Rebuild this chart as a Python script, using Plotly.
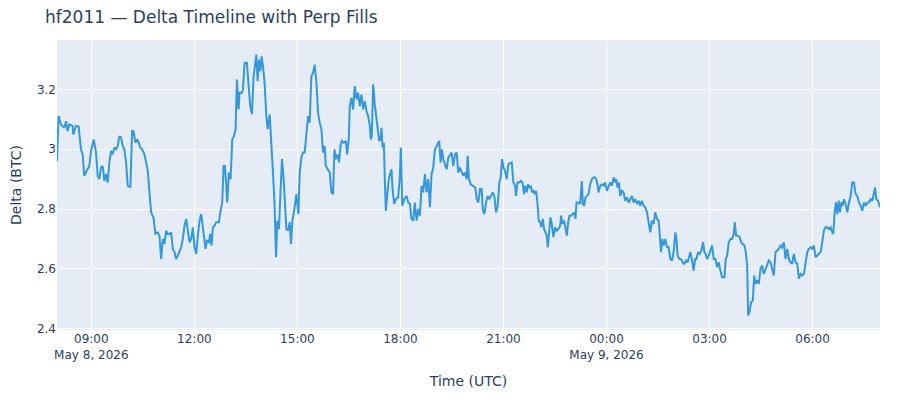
import pandas as pd
import plotly.graph_objects as go

# minutes after 2026-05-08 08:00 UTC and the delta (BTC)
start = pd.Timestamp('2026-05-08 08:00')

min_a = [0, 2.8, 6.9, 12.7, 15.7, 18.6, 21.5, 27.3, 28.5, 33.2,
         37.8, 40.2, 41.9, 44.8, 47.7, 51.8, 56.5, 59.4, 64.1, 68.2,
         71.1, 74.0, 76.9, 79.8, 82.7, 85.7, 88.6, 91.5, 94.4, 97.3,
         100.2, 103.2, 106.1, 109.0, 111.9, 114.8, 117.7, 120.7, 123.6, 128.2,
         131.2, 133.5, 137.0, 139.9, 142.8, 145.2, 148.7, 152.7, 155.7, 158.6,
         161.5, 164.4, 168.5, 172.0, 176.1, 179.0, 181.9, 184.8, 187.7, 190.7,
         193.6, 196.5, 199.4, 202.3, 205.2, 208.2, 211.1, 214.0, 216.9, 219.8,
         222.7, 225.7, 228.6, 231.5, 234.4, 237.3, 240.2, 243.2, 246.1, 249.0,
         251.9, 254.8]
val_a = [2.961, 3.111, 3.083, 3.072, 3.094, 3.061, 3.083, 3.078, 3.050, 3.078,
         3.076, 3.033, 3.000, 2.983, 2.911, 2.928, 2.944, 2.994, 3.033, 2.989,
         2.911, 2.900, 2.939, 2.944, 2.894, 2.917, 2.889, 2.956, 2.994, 2.983,
         3.006, 3.000, 3.011, 3.044, 3.039, 3.011, 3.000, 2.956, 2.878, 2.872,
         3.061, 3.061, 3.022, 3.033, 3.022, 3.006, 3.000, 2.983, 2.956, 2.928,
         2.856, 2.789, 2.772, 2.717, 2.722, 2.711, 2.633, 2.700, 2.683, 2.728,
         2.717, 2.717, 2.722, 2.667, 2.656, 2.633, 2.644, 2.656, 2.672, 2.700,
         2.744, 2.767, 2.722, 2.689, 2.700, 2.739, 2.672, 2.650, 2.711, 2.761,
         2.783, 2.744]

min_b = [257.8, 259.5, 261.8, 265.3, 267.7, 270.0, 272.3, 275.2, 278.2, 282.8,
         285.2, 288.7, 291.0, 293.3, 295.7, 297.4, 300.3, 303.2, 306.2, 309.1,
         312.0, 314.3, 317.2, 319.0, 323.1, 324.8, 327.7, 331.8, 334.8, 337.7,
         340.6, 343.5, 345.8, 348.2, 350.5, 352.8, 355.2, 357.5, 359.8, 362.7,
         365.7, 368.0, 371.5, 374.4, 377.3, 380.2, 382.6, 384.9, 387.8, 390.7,
         393.1, 396.0, 398.3, 400.7, 403.6, 406.5, 408.8, 411.2, 414.7, 418.2,
         421.7, 424.0, 426.9, 429.8, 432.7, 435.7, 438.6, 441.5, 444.4, 447.3,
         450.2, 453.2, 456.1, 459.0, 461.9, 464.8, 467.7, 469.5, 473.6, 476.5,
         479.4, 482.3, 484.7, 487.0, 490.0, 492.8, 495.2, 497.5, 501.0, 504.5,
         506.8, 509.7, 511.5, 514.4, 517.3, 520.2, 523.2, 526.1]
val_b = [2.700, 2.667, 2.694, 2.689, 2.717, 2.678, 2.739, 2.744, 2.756, 2.756,
         2.789, 2.822, 2.944, 2.944, 2.878, 2.822, 2.922, 2.900, 3.033, 3.044,
         3.067, 3.233, 3.133, 3.189, 3.189, 3.200, 3.289, 3.289, 3.211, 3.144,
         3.117, 3.244, 3.278, 3.317, 3.228, 3.300, 3.261, 3.311, 3.278, 3.222,
         3.111, 3.067, 3.117, 3.033, 2.922, 2.811, 2.639, 2.761, 2.733, 2.867,
         2.967, 2.900, 2.800, 2.733, 2.728, 2.756, 2.683, 2.761, 2.800, 2.850,
         2.783, 2.922, 2.972, 2.989, 2.989, 3.044, 3.111, 3.089, 3.244, 3.256,
         3.283, 3.222, 3.122, 3.089, 3.067, 2.989, 3.011, 2.944, 2.928, 2.922,
         2.856, 2.850, 3.000, 2.967, 2.983, 2.956, 3.011, 3.028, 3.022, 3.028,
         2.983, 3.033, 3.144, 3.172, 3.133, 3.211, 3.167, 3.189]

min_c = [529.0, 531.9, 534.8, 537.7, 540.7, 543.6, 546.5, 548.2, 550.0, 552.3,
         555.2, 558.2, 560.5, 562.8, 565.2, 566.9, 568.7, 571.0, 572.7, 574.5,
         576.8, 579.7, 582.7, 584.4, 586.2, 589.1, 592.0, 596.1, 599.0, 600.7,
         603.1, 606.6, 610.7, 613.6, 616.5, 619.4, 622.3, 625.2, 628.2, 631.1,
         634.0, 636.9, 639.8, 642.7, 645.7, 648.6, 651.5, 654.4, 657.3, 660.2,
         663.2, 666.1, 667.8, 670.2, 672.5, 674.8, 677.7, 680.7, 683.6, 686.5,
         689.4, 692.3, 695.2, 698.2, 701.1, 704.0, 706.9, 709.8, 712.7, 715.7,
         717.4, 719.7, 722.7, 727.3, 730.8, 733.2, 736.1, 739.0, 741.9, 743.7,
         746.6, 749.5, 752.4, 755.3, 758.2, 761.2, 764.1, 767.0, 769.9, 772.8,
         775.2, 777.5, 779.8, 782.7, 785.7, 788.6]
val_c = [3.144, 3.183, 3.133, 3.161, 3.128, 3.111, 3.078, 3.033, 3.044, 3.217,
         3.150, 3.100, 3.056, 3.028, 3.033, 3.072, 3.006, 3.022, 2.900, 2.794,
         2.844, 2.900, 2.922, 2.933, 2.867, 2.817, 2.833, 2.839, 2.911, 3.006,
         2.811, 2.833, 2.844, 2.822, 2.817, 2.767, 2.761, 2.822, 2.761, 2.800,
         2.778, 2.878, 2.856, 2.917, 2.856, 2.900, 2.806, 2.917, 2.939, 3.000,
         3.011, 3.022, 3.028, 2.956, 3.000, 2.967, 2.950, 2.933, 2.972, 2.983,
         2.989, 2.944, 2.983, 2.989, 2.922, 2.939, 2.922, 2.911, 2.922, 2.900,
         2.978, 2.900, 2.883, 2.878, 2.872, 2.833, 2.822, 2.867, 2.867, 2.800,
         2.783, 2.822, 2.844, 2.833, 2.844, 2.856, 2.844, 2.789, 2.811, 2.889,
         2.906, 2.967, 2.939, 2.928, 2.900, 2.950]

min_d = [794.4, 797.3, 800.2, 802.0, 804.3, 807.8, 810.2, 813.1, 816.0, 818.3,
         820.7, 823.0, 825.3, 827.7, 830.0, 832.3, 834.7, 837.0, 839.3, 841.7,
         844.0, 846.3, 848.7, 851.0, 853.3, 855.7, 857.4, 859.7, 862.1, 864.4,
         867.3, 870.2, 873.2, 876.1, 879.0, 880.7, 883.1, 886.0, 888.3, 890.7,
         893.0, 895.3, 898.2, 901.2, 904.1, 905.8, 907.6, 910.5, 914.0, 916.9,
         918.7, 921.0, 923.3, 925.7, 928.6, 931.5, 934.4, 937.3, 940.2, 943.2,
         946.1, 949.0, 951.9, 954.8, 957.7, 960.7, 963.6, 966.5, 969.4, 972.3,
         975.2, 977.0, 979.3, 981.7, 984.0, 986.9, 989.8, 992.7, 995.7, 998.6,
         1001.5, 1004.4, 1007.3, 1010.2, 1013.2, 1016.1, 1019.0, 1021.9, 1024.8, 1027.7,
         1030.7, 1033.6, 1036.5]
val_d = [2.956, 2.889, 2.878, 2.844, 2.889, 2.889, 2.894, 2.889, 2.850, 2.878,
         2.856, 2.883, 2.872, 2.878, 2.856, 2.861, 2.850, 2.861, 2.822, 2.761,
         2.756, 2.739, 2.767, 2.733, 2.722, 2.711, 2.672, 2.722, 2.772, 2.750,
         2.706, 2.739, 2.728, 2.733, 2.744, 2.778, 2.750, 2.761, 2.739, 2.711,
         2.756, 2.778, 2.778, 2.783, 2.789, 2.767, 2.822, 2.822, 2.817, 2.894,
         2.817, 2.811, 2.839, 2.844, 2.850, 2.883, 2.900, 2.906, 2.906, 2.894,
         2.856, 2.878, 2.883, 2.878, 2.889, 2.861, 2.878, 2.889, 2.878, 2.906,
         2.889, 2.900, 2.872, 2.889, 2.844, 2.861, 2.856, 2.828, 2.839, 2.822,
         2.833, 2.844, 2.822, 2.833, 2.817, 2.828, 2.811, 2.828, 2.811, 2.806,
         2.789, 2.761, 2.722]

min_e = [1039.4, 1042.3, 1045.2, 1048.2, 1051.1, 1052.8, 1055.2, 1057.5, 1059.8, 1062.8,
         1065.7, 1068.6, 1071.5, 1074.4, 1077.3, 1080.3, 1082.0, 1084.3, 1087.3, 1090.2,
         1093.1, 1096.0, 1098.9, 1101.8, 1104.2, 1106.5, 1109.4, 1112.3, 1114.7, 1117.0,
         1120.0, 1122.8, 1125.7, 1128.7, 1131.0, 1133.3, 1135.7, 1138.6, 1141.5, 1144.4,
         1147.3, 1150.2, 1153.2, 1156.1, 1159.0, 1161.9, 1166.0, 1168.3, 1170.7, 1173.6,
         1176.5, 1179.4, 1182.3, 1184.1, 1186.4, 1189.4, 1192.8, 1195.2, 1198.1, 1201.0,
         1203.3, 1205.7, 1207.4, 1209.7, 1212.7, 1215.6, 1218.0, 1220.3, 1223.2, 1226.1,
         1229.0, 1231.9, 1234.8, 1237.8, 1240.7, 1243.6, 1246.5, 1249.4, 1252.3, 1255.3,
         1258.2, 1261.1, 1264.0, 1266.9, 1269.8, 1272.8, 1275.7, 1278.6, 1281.5, 1284.4,
         1287.3, 1290.3, 1293.2, 1296.1, 1299.0, 1301.9, 1304.8, 1307.8, 1310.7, 1313.6]
val_e = [2.761, 2.750, 2.789, 2.767, 2.761, 2.700, 2.656, 2.700, 2.678, 2.700,
         2.672, 2.672, 2.633, 2.628, 2.656, 2.722, 2.706, 2.644, 2.633, 2.633,
         2.622, 2.617, 2.628, 2.622, 2.644, 2.656, 2.628, 2.594, 2.633, 2.633,
         2.656, 2.650, 2.661, 2.689, 2.656, 2.650, 2.633, 2.644, 2.661, 2.678,
         2.633, 2.633, 2.606, 2.622, 2.594, 2.572, 2.572, 2.633, 2.644, 2.689,
         2.700, 2.700, 2.717, 2.756, 2.711, 2.711, 2.706, 2.689, 2.683, 2.678,
         2.656, 2.611, 2.444, 2.456, 2.489, 2.494, 2.578, 2.550, 2.561, 2.550,
         2.600, 2.611, 2.583, 2.600, 2.611, 2.628, 2.622, 2.600, 2.578, 2.656,
         2.661, 2.667, 2.678, 2.672, 2.689, 2.633, 2.667, 2.633, 2.622, 2.617,
         2.650, 2.622, 2.617, 2.567, 2.583, 2.578, 2.583, 2.622, 2.656, 2.667]

min_f = [1316.5, 1319.4, 1322.3, 1325.2, 1328.2, 1331.1, 1334.0, 1336.9, 1339.8, 1342.7,
         1345.7, 1348.6, 1351.5, 1354.4, 1356.2, 1358.5, 1360.8, 1363.2, 1365.5, 1367.8,
         1370.2, 1372.5, 1374.8, 1377.7, 1380.7, 1383.6, 1386.5, 1389.4, 1392.3, 1395.2,
         1398.2, 1401.1, 1404.0, 1406.9, 1409.8, 1412.7, 1415.7, 1418.6, 1421.5, 1424.4,
         1427.3, 1429.1, 1431.4, 1434.3, 1437.8]
val_f = [2.672, 2.667, 2.678, 2.639, 2.644, 2.650, 2.656, 2.689, 2.728, 2.739,
         2.739, 2.733, 2.739, 2.722, 2.717, 2.789, 2.822, 2.783, 2.828, 2.789,
         2.822, 2.811, 2.833, 2.817, 2.789, 2.822, 2.844, 2.889, 2.889, 2.850,
         2.844, 2.822, 2.811, 2.794, 2.822, 2.811, 2.822, 2.822, 2.833, 2.828,
         2.850, 2.872, 2.833, 2.828, 2.806]

minutes = min_a + min_b + min_c + min_d + min_e + min_f
delta = val_a + val_b + val_c + val_d + val_e + val_f
assert len(minutes) == len(delta)

times = start + pd.to_timedelta(minutes, unit='min')

fig = go.Figure()
fig.add_trace(go.Scatter(name='Delta',
                         mode='lines',
                         x=times,
                         y=delta,
                         line={'color': '#3498db',
                               'width': 2}))
# page body has an 8px margin, so the figure is 884x384 and shifted margins
fig.update_layout(
    template='plotly',
    width=884,
    height=384,
    font={'family': 'DejaVu Sans'},
    title={'text': 'hf2011 — Delta Timeline with Perp Fills',
           'font_size': 17,
           'x': 37 / 884,
           'xref': 'container',
           'xanchor': 'left',
           'y': 1 - 9 / 384,
           'yref': 'container',
           'yanchor': 'middle'},
    margin={'l': 49,
            'r': 12,
            't': 32,
            'b': 62},
    xaxis={'title': {'text': 'Time (UTC)'},
           'automargin': False},
    yaxis={'title': {'text': 'Delta (BTC)',
                     'standoff': 20},
           'automargin': False},
    showlegend=False)
fig.write_html('out.html')
